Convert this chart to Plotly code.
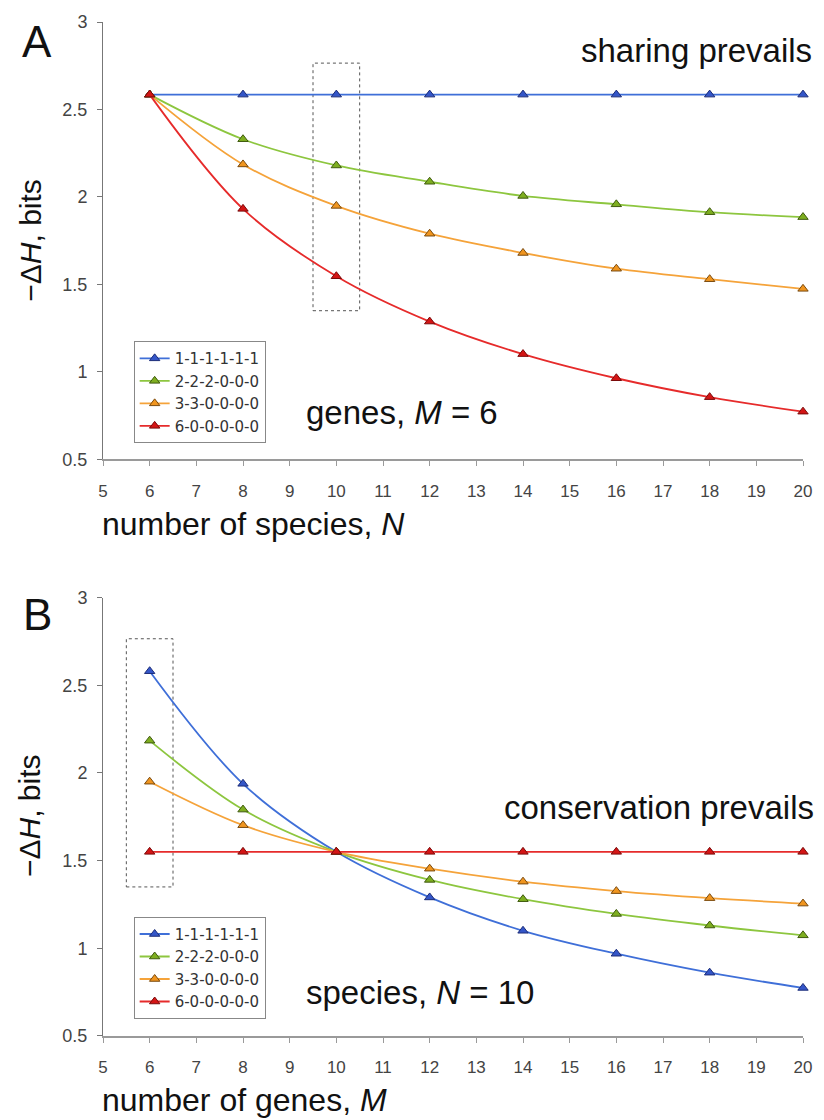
import plotly.graph_objects as go

# ---------------- data ----------------
N_values = [6, 8, 10, 12, 14, 16, 18, 20]          # panel A x (number of species)
M_values = [6, 8, 10, 12, 14, 16, 18, 20]          # panel B x (number of genes)
series_names = ["1-1-1-1-1-1", "2-2-2-0-0-0", "3-3-0-0-0-0", "6-0-0-0-0-0"]

A_blue   = [2.585, 2.585, 2.585, 2.585, 2.585, 2.585, 2.585, 2.585]
A_green  = [2.585, 2.33, 2.18, 2.087, 2.006, 1.958, 1.913, 1.885]
A_orange = [2.585, 2.186, 1.949, 1.79, 1.68, 1.59, 1.53, 1.475]
A_red    = [2.585, 1.932, 1.547, 1.288, 1.102, 0.964, 0.856, 0.773]

B_blue   = [2.58, 1.938, 1.55, 1.29, 1.10, 0.969, 0.861, 0.774]
B_green  = [2.184, 1.791, 1.55, 1.39, 1.28, 1.196, 1.13, 1.074]
B_orange = [1.95, 1.702, 1.55, 1.454, 1.38, 1.326, 1.286, 1.255]
B_red    = [1.55, 1.55, 1.55, 1.55, 1.55, 1.55, 1.55, 1.55]

x_ticks = list(range(5, 21))
y_ticks = [0.5, 1, 1.5, 2, 2.5, 3]
highlight_A = [9.5, 10.5, 1.35, 2.765]   # dotted box: x0, x1, y0, y1
highlight_B = [5.5, 6.5, 1.35, 2.765]

# ---------------- styles ----------------
line_colors = ["#3F6FD8", "#8DC63F", "#F5A33A", "#E62B2B"]
fill_colors = ["#3456C8", "#7EAE20", "#F0951F", "#D41515"]
edge_colors = ["#1C2C78", "#3F5A0E", "#7A4A0E", "#7A0A0A"]
FONT = "Liberation Sans, Arial, Helvetica, sans-serif"
LEGEND_FONT = "DejaVu Sans, Liberation Sans, Arial, sans-serif"

fig = go.Figure()

def add_panel(xv, ys, xa, ya, legend):
    for i, y in enumerate(ys):
        fig.add_trace(go.Scatter(
            x=xv, y=y, mode="lines+markers", name=series_names[i],
            line=dict(color=line_colors[i], width=1.8, shape="spline", smoothing=1),
            marker=dict(symbol="triangle-up", size=9, color=fill_colors[i],
                        line=dict(color=edge_colors[i], width=1)),
            xaxis=xa, yaxis=ya, legend=legend, cliponaxis=False,
        ))

add_panel(N_values, [A_blue, A_green, A_orange, A_red], "x", "y", "legend")
add_panel(M_values, [B_blue, B_green, B_orange, B_red], "x2", "y2", "legend2")

axis_common_x = dict(range=[5, 20], tickvals=x_ticks, showline=True, linecolor="#9a9a9a",
                     linewidth=2, ticks="outside", ticklen=5, tickcolor="#9a9a9a",
                     tickwidth=1, showgrid=False, zeroline=False,
                     tickfont=dict(family=FONT, size=17, color="#444"),
                     ticklabelstandoff=10)
axis_common_y = dict(range=[0.5, 3], tickvals=y_ticks, showline=True, linecolor="#777",
                     linewidth=1, ticks="outside", ticklen=5, tickcolor="#777",
                     showgrid=False, zeroline=False,
                     tickfont=dict(family=FONT, size=18, color="#444"),
                     ticklabelstandoff=6)

legend_common = dict(bgcolor="white", bordercolor="#888", borderwidth=1,
                     font=dict(family=LEGEND_FONT, size=15, color="#333"),
                     xanchor="left", yanchor="top", tracegroupgap=0,
                     itemwidth=30)

shapes = []
for (x0, x1, y0, y1), xr, yr in [(highlight_A, "x", "y"), (highlight_B, "x2", "y2")]:
    shapes.append(dict(type="rect", xref=xr, yref=yr, x0=x0, x1=x1, y0=y0, y1=y1,
                       line=dict(color="#555", width=1, dash="dot"), layer="below"))

def ann(text, x, y, size, xanchor="left", yanchor="middle", angle=0):
    return dict(text=text, x=x, y=y, xref="paper", yref="paper", showarrow=False,
                xanchor=xanchor, yanchor=yanchor, textangle=angle,
                font=dict(family=FONT, size=size, color="#111"))

annotations = [
    ann("A", -0.094, 0.9806, 44, "center"),
    ann("B", -0.093, 0.4157, 44, "center"),
    ann("sharing prevails", 1.016, 0.9716, 33, "right"),
    ann("genes, <i>M</i> = 6", 0.287, 0.6147, 33, "left"),
    ann("conservation prevails", 1.018, 0.2255, 33, "right"),
    ann("species, <i>N</i> = 10", 0.287, 0.0431, 33, "left"),
    ann("number of species, <i>N</i>", -0.004, 0.5049, 32, "left"),
    ann("number of genes, <i>M</i>", -0.004, -0.0627, 32, "left"),
    ann("\u2212\u0394<i>H</i>, bits", -0.1047, 0.785, 30, "center", angle=-90),
    ann("\u2212\u0394<i>H</i>, bits", -0.1047, 0.2176, 30, "center", angle=-90),
]

fig.update_layout(
    width=824, height=1120,
    margin=dict(l=103, r=14, t=16, b=84),
    paper_bgcolor="white", plot_bgcolor="white",
    xaxis=dict(domain=[0, 1], anchor="y", **axis_common_x),
    yaxis=dict(domain=[0.5686, 1], anchor="x", **axis_common_y),
    xaxis2=dict(domain=[0, 1], anchor="y2", **axis_common_x),
    yaxis2=dict(domain=[0, 0.4324], anchor="x2", **axis_common_y),
    legend=dict(x=0.0438, y=0.6853, **legend_common),
    legend2=dict(x=0.0438, y=0.1176, **legend_common),
    shapes=shapes, annotations=annotations,
    showlegend=True,
)

fig.write_html("out.html")
